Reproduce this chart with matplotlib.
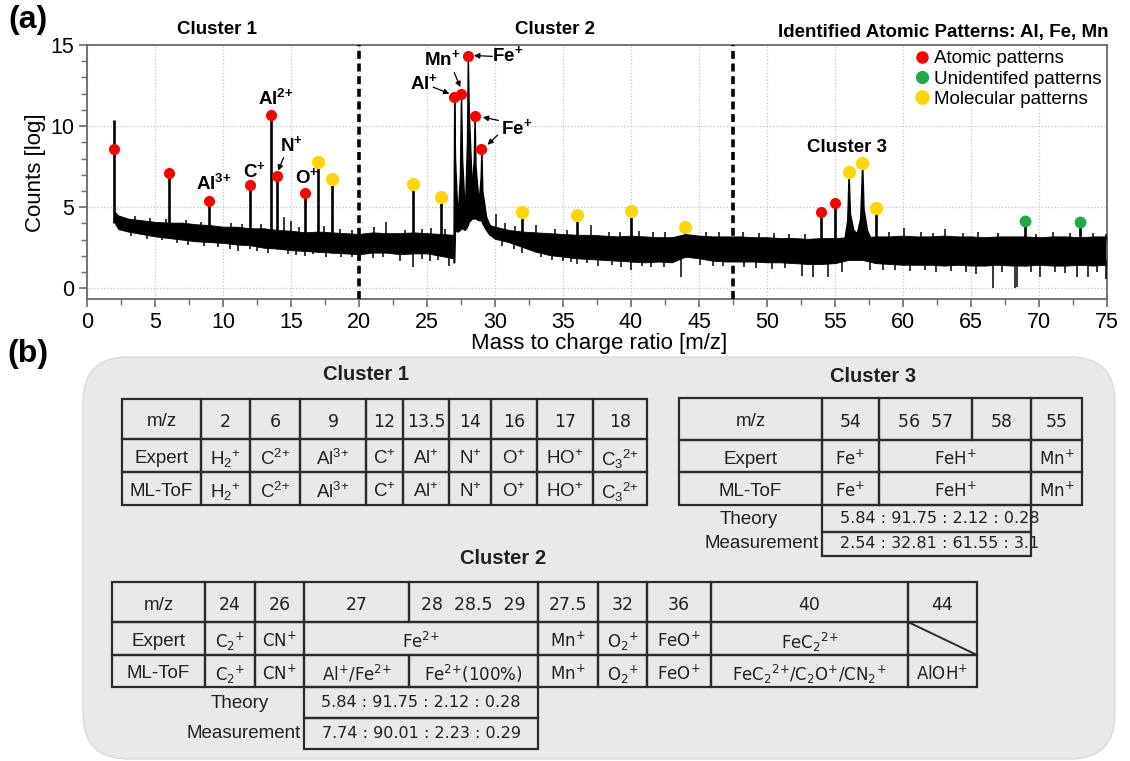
import matplotlib
matplotlib.use("Agg")
import matplotlib.pyplot as plt
import numpy as np
from matplotlib.lines import Line2D
from matplotlib.patches import FancyBboxPatch, Rectangle

plt.rcParams['font.family'] = ['Liberation Sans', 'DejaVu Sans']
plt.rcParams['mathtext.fontset'] = 'custom'
plt.rcParams['mathtext.rm'] = 'Liberation Sans'
plt.rcParams['mathtext.it'] = 'Liberation Sans:italic'
plt.rcParams['mathtext.bf'] = 'Liberation Sans:bold'
plt.rcParams['mathtext.sf'] = 'Liberation Sans'

# ---------------- spectrum data ----------------
# noise band: m/z, upper and lower edge (log counts); gap under the 27-29 cluster
band_mz = [2.05, 2.3, 3, 4, 5, 6, 7, 8, 9, 10, 11, 12, 13, 14, 15, 16, 17, 18, 19, 20,
           21, 22, 23, 24, 25, 26, 26.9,
           29.6, 30, 31, 32, 33, 34, 35, 36, 37, 38, 39, 40, 41, 42, 43, 44, 45, 46, 47,
           48, 49, 50, 51, 52, 53, 54, 55, 56, 57, 58, 59, 60, 61, 62, 63, 64, 65, 66,
           67, 68, 69, 70, 71, 72, 73, 74, 75]
band_hi = [4.7, 4.5, 4.3, 4.2, 4.1, 4.05, 4.05, 3.95, 3.9, 3.8, 3.8, 3.7, 3.7, 3.6, 3.55,
           3.45, 3.5, 3.45, 3.4, 3.35, 3.45, 3.4, 3.4, 3.45, 3.4, 3.35, 3.3,
           3.9, 3.8, 3.6, 3.5, 3.45, 3.4, 3.35, 3.3, 3.3, 3.25, 3.2, 3.25, 3.2, 3.15, 3.15,
           3.35, 3.25, 3.2, 3.2, 3.2, 3.15, 3.15, 3.1, 3.1, 3.05, 3.1, 3.1, 3.15, 3.15,
           3.2, 3.2, 3.25, 3.2, 3.2, 3.25, 3.2, 3.2, 3.15, 3.2, 3.2, 3.2, 3.15, 3.2,
           3.2, 3.15, 3.2, 3.2]
band_lo = [4.0, 3.65, 3.5, 3.35, 3.2, 3.1, 3.0, 2.9, 2.85, 2.8, 2.7, 2.65, 2.5, 2.45, 2.35,
           2.3, 2.25, 2.2, 2.15, 2.1, 2.2, 2.2, 2.1, 2.15, 2.15, 2.0, 1.85,
           3.3, 3.05, 2.85, 2.55, 2.25, 2.05, 1.95, 1.85, 1.8, 1.75, 1.7, 1.65, 1.6, 1.65,
           1.6, 1.95, 1.85, 1.7, 1.65, 1.65, 1.65, 1.6, 1.6, 1.55, 1.5, 1.5, 1.55, 1.75,
           1.75, 1.55, 1.5, 1.45, 1.45, 1.45, 1.4, 1.45, 1.4, 1.4, 1.45, 1.4, 1.4, 1.45,
           1.4, 1.4, 1.45, 1.4, 1.45]

# Al / Mn / Fe cluster (27 - 29.6)
core_mz = [26.95, 27.0, 27.06, 27.25, 27.42, 27.5, 27.58, 27.78, 27.94, 28.0, 28.07, 28.3,
           28.44, 28.5, 28.57, 28.8, 28.94, 29.0, 29.07, 29.35, 29.6]
core_hi = [3.2, 11.8, 8.0, 4.3, 7.0, 11.95, 8.0, 4.6, 9.0, 14.3, 11.0, 6.1,
           8.0, 10.65, 7.5, 5.3, 6.8, 8.6, 6.0, 4.4, 3.9]
core_lo = [1.6, 1.6, 3.6, 3.5, 3.6, 3.7, 3.7, 3.6, 3.8, 3.9, 4.1, 4.3,
           4.3, 4.4, 4.3, 4.2, 4.2, 4.2, 4.0, 3.6, 3.3]

# FeH cluster (56 - 57)
c3_mz = [55.7, 55.9, 56.0, 56.1, 56.35, 56.6, 56.85, 57.0, 57.1, 57.35, 57.6]
c3_hi = [3.1, 4.2, 7.15, 4.6, 3.6, 3.4, 4.3, 7.75, 4.9, 3.6, 3.1]
c3_lo = [2.0, 2.4, 2.8, 2.8, 2.5, 2.2, 2.5, 2.8, 2.8, 2.3, 2.0]

# narrow peaks
peak_mz = [2, 6, 9, 12, 13.5, 14, 16, 17, 18, 24, 26, 32, 36, 40, 44, 54, 55, 58, 69, 73]
peak_top = [10.4, 7.1, 5.4, 6.36, 10.68, 6.95, 5.86, 7.78, 6.73, 6.44, 5.64, 4.69, 4.52,
            4.77, 3.77, 4.69, 5.25, 4.94, 4.14, 4.07]

# small unlabelled spikes of the noise
spike_mz = [3.5, 4.6, 5.8, 7.3, 8.4, 10.6, 11.4, 12.8, 14.5, 15.0, 15.6, 17.4, 18.6, 19.5,
            21.1, 22.0, 23.4, 24.6, 25.3, 26.3, 30.05, 30.7, 31.5, 33.0, 34.4, 35.3, 37.05,
            38.4, 39.2, 40.6, 41.6, 42.5, 45.5, 46.5, 48.2, 49.4, 50.5, 51.6, 52.8, 59.0,
            60.1, 61.3, 62.2, 63.1, 64.4, 65.5, 67.0, 69.8, 71.0, 72.3, 74.0, 74.9]
spike_top = [4.45, 4.35, 4.25, 4.2, 4.1, 4.0, 3.95, 3.95, 4.42, 4.15, 3.8, 3.85, 3.65, 3.6,
             3.75, 4.1, 3.6, 3.65, 3.7, 3.65, 4.6, 4.0, 3.85, 3.9, 3.65, 3.6, 3.9,
             3.5, 3.5, 3.55, 3.45, 3.45, 3.5, 3.45, 3.45, 3.4, 3.4, 3.35, 3.35, 3.5,
             3.7, 3.45, 3.4, 3.65, 3.4, 3.45, 3.4, 3.35, 3.45, 3.4, 3.4, 3.35]
# downward dips of the noise
dip_mz = [3.2, 4.4, 5.5, 6.6, 7.4, 8.6, 9.6, 10.5, 11.1, 12.0, 12.5, 13.3, 14.8, 15.4, 16.0,
          16.6, 17.6, 18.7, 19.5, 20.1, 21.0, 21.8, 23.0, 24.0, 24.6, 25.2, 25.8, 26.6,
          30.5, 31.4, 32.0, 33.4, 34.2, 35.0, 35.6, 36.0, 36.8, 37.6, 38.6, 39.3, 40.0,
          40.8, 41.5, 42.4, 43.7, 45.1, 46.0, 46.8, 48.3, 49.2, 50.4, 51.3, 52.6, 53.4,
          54.5, 55.5, 57.6, 58.5, 59.4, 60.5, 61.6, 62.4, 63.5, 64.6, 65.4, 66.6, 67.3,
          68.2, 68.4, 69.4, 70.1, 71.2, 71.9, 72.8, 73.6, 74.3, 74.9]
dip_bottom = [3.2, 3.05, 2.95, 2.8, 2.7, 2.6, 2.55, 2.45, 2.3, 2.4, 2.3, 2.2, 2.1, 2.05, 2.0,
              2.1, 1.95, 1.95, 1.9, 1.8, 1.85, 1.9, 1.7, 1.3, 1.8, 1.7, 1.75, 1.4,
              2.6, 2.4, 2.2, 1.9, 1.75, 1.7, 1.6, 1.5, 1.55, 1.4, 1.45, 1.3, 1.1,
              1.35, 1.3, 1.3, 0.7, 1.45, 1.4, 1.35, 1.3, 1.25, 1.2, 1.25, 0.75, 0.7,
              0.7, 1.0, 1.1, 1.1, 1.15, 1.05, 1.1, 1.0, 1.05, 1.0, 0.9, 0.0, 1.0,
              0.0, 0.05, 1.0, 0.7, 1.0, 0.95, 0.7, 0.7, 1.0, 0.6]

# identified patterns (dots)
dot_mz = [2, 6, 9, 12, 13.5, 14, 16, 17, 18, 24, 26, 27, 27.5, 28, 28.5, 29, 32, 36, 40,
          44, 54, 55, 56, 57, 58, 69, 73]
dot_y = [8.6, 7.1, 5.4, 6.36, 10.68, 6.95, 5.86, 7.78, 6.73, 6.44, 5.64, 11.81, 11.95,
         14.3, 10.64, 8.6, 4.69, 4.52, 4.77, 3.77, 4.69, 5.25, 7.14, 7.75, 4.94, 4.14, 4.07]
dot_kind = ['A', 'A', 'A', 'A', 'A', 'A', 'A', 'M', 'M', 'M', 'M', 'A', 'A', 'A', 'A', 'A',
            'M', 'M', 'M', 'M', 'A', 'A', 'M', 'M', 'M', 'U', 'U']
kind_color = {'A': '#ff0000', 'U': '#21a945', 'M': '#ffd700'}
kind_size = {'A': 8, 'U': 8.5, 'M': 9.5}
kind_label = {'A': 'Atomic patterns', 'U': 'Unidentifed patterns', 'M': 'Molecular patterns'}

# ---------------- table data ----------------
c1_cols = [122, 201, 250, 300, 366, 403, 449, 491, 537, 593, 647]
c1_rows = [399, 439, 472, 505]
c1_cells = [
    [('m/z', 0, 1), ('2', 1, 2), ('6', 2, 3), ('9', 3, 4), ('12', 4, 5), ('13.5', 5, 6),
     ('14', 6, 7), ('16', 7, 8), ('17', 8, 9), ('18', 9, 10)],
    [('Expert', 0, 1), ('H$_2{}^{{+}}$', 1, 2), ('C$^{2{+}}$', 2, 3), ('Al$^{3{+}}$', 3, 4),
     ('C$^{{+}}$', 4, 5), ('Al$^{{+}}$', 5, 6), ('N$^{{+}}$', 6, 7), ('O$^{{+}}$', 7, 8),
     ('HO$^{{+}}$', 8, 9), ('C$_3{}^{2{+}}$', 9, 10)],
    [('ML-ToF', 0, 1), ('H$_2{}^{{+}}$', 1, 2), ('C$^{2{+}}$', 2, 3), ('Al$^{3{+}}$', 3, 4),
     ('C$^{{+}}$', 4, 5), ('Al$^{{+}}$', 5, 6), ('N$^{{+}}$', 6, 7), ('O$^{{+}}$', 7, 8),
     ('HO$^{{+}}$', 8, 9), ('C$_3{}^{2{+}}$', 9, 10)],
]

c2_cols = [112, 205, 255, 304, 409, 538, 598, 647, 711, 908, 977]
c2_rows = [582, 622, 655, 687]
c2_cells = [
    [('m/z', 0, 1), ('24', 1, 2), ('26', 2, 3), ('27', 3, 4), ('28  28.5  29', 4, 5),
     ('27.5', 5, 6), ('32', 6, 7), ('36', 7, 8), ('40', 8, 9), ('44', 9, 10)],
    [('Expert', 0, 1), ('C$_2{}^{{+}}$', 1, 2), ('CN$^{{+}}$', 2, 3), ('Fe$^{2{+}}$', 3, 5),
     ('Mn$^{{+}}$', 5, 6), ('O$_2{}^{{+}}$', 6, 7), ('FeO$^{{+}}$', 7, 8),
     ('FeC$_2{}^{2{+}}$', 8, 9), ('', 9, 10)],
    [('ML-ToF', 0, 1), ('C$_2{}^{{+}}$', 1, 2), ('CN$^{{+}}$', 2, 3),
     ('Al$^{{+}}$/Fe$^{2{+}}$', 3, 4), ('Fe$^{2{+}}$(100%)', 4, 5), ('Mn$^{{+}}$', 5, 6),
     ('O$_2{}^{{+}}$', 6, 7), ('FeO$^{{+}}$', 7, 8),
     ('FeC$_2{}^{2{+}}$/C$_2$O$^{{+}}$/CN$_2{}^{{+}}$', 8, 9), ('AlOH$^{{+}}$', 9, 10)],
]
c2_theory = '5.84 : 91.75 : 2.12 : 0.28'
c2_measure = '7.74 : 90.01 : 2.23 : 0.29'

c3_cols = [679, 822, 879, 972, 1031, 1082]
c3_rows = [398, 440, 472, 505]
c3_cells = [
    [('m/z', 0, 1), ('54', 1, 2), ('56  57', 2, 3), ('58', 3, 4), ('55', 4, 5)],
    [('Expert', 0, 1), ('Fe$^{{+}}$', 1, 2), ('FeH$^{{+}}$', 2, 4), ('Mn$^{{+}}$', 4, 5)],
    [('ML-ToF', 0, 1), ('Fe$^{{+}}$', 1, 2), ('FeH$^{{+}}$', 2, 4), ('Mn$^{{+}}$', 4, 5)],
]
c3_theory = '5.84 : 91.75 : 2.12 : 0.28'
c3_measure = '2.54 : 32.81 : 61.55 : 3.1'

W, H = 1130, 761
fig = plt.figure(figsize=(W / 100, H / 100), dpi=100)

# ---------------- panel (b): tables on a pixel-coordinate overlay ----------------
tb = fig.add_axes([0, 0, 1, 1])
tb.set_xlim(0, W)
tb.set_ylim(H, 0)
tb.axis('off')

tb.add_patch(FancyBboxPatch((83, 357), 1032, 402, boxstyle='round,pad=0,rounding_size=45',
                            fc='#e9e9e9', ec='#dadada', lw=1))
ink = '#231f20'
lc = '#2b2b2b'


def draw_table(cols, rows, cells, formula_font, formula_size):
    for r, row in enumerate(cells):
        y0, y1 = rows[r], rows[r + 1]
        for text, a, b in row:
            x0, x1 = cols[a], cols[b]
            tb.add_patch(Rectangle((x0, y0), x1 - x0, y1 - y0, fill=False, ec=lc, lw=1.6))
            if a == 0:
                fam, size = 'Liberation Sans', 13.5
            elif any(ch.isalpha() for ch in text):
                fam, size = formula_font, formula_size
            else:
                fam, size = 'DejaVu Sans', 12.5
            mf = 'dejavusans' if fam == 'DejaVu Sans' else 'custom'
            tb.text((x0 + x1) / 2, (y0 + y1) / 2 + 1, text, ha='center', va='center_baseline',
                    fontsize=size, family=fam, color=ink, math_fontfamily=mf)


draw_table(c1_cols, c1_rows, c1_cells, 'Liberation Sans', 13.5)
draw_table(c2_cols, c2_rows, c2_cells, 'DejaVu Sans', 12)
draw_table(c3_cols, c3_rows, c3_cells, 'DejaVu Sans', 12)
tb.plot([c2_cols[9], c2_cols[10]], [c2_rows[1], c2_rows[2]], color=lc, lw=1.4)

tb.text(366, 375, 'Cluster 1', ha='center', va='center', fontsize=14.5, fontweight='bold', color=ink)
tb.text(503, 559, 'Cluster 2', ha='center', va='center', fontsize=14.5, fontweight='bold', color=ink)
tb.text(873, 377, 'Cluster 3', ha='center', va='center', fontsize=14.5, fontweight='bold', color=ink)

# theory / measurement boxes
for (x0, x1, ya, yb, yc, t1, t2, lab_x, centred) in [
        (304, 538, 687, 718, 749, c2_theory, c2_measure, 240, True),
        (822, 1031, 505, 532, 556, c3_theory, c3_measure, 749, False)]:
    tb.text(lab_x, (ya + yb) / 2 + 1, 'Theory', ha='center', va='center', fontsize=13.5, color=ink)
    tb.text(x0 - 3, (yb + yc) / 2, 'Measurement', ha='right', va='center', fontsize=13.5, color=ink)
    for (y0, y1, t) in [(ya, yb, t1), (yb, yc, t2)]:
        if centred:
            tb.text((x0 + x1) / 2, (y0 + y1) / 2, t, ha='center', va='center',
                    fontsize=11.5, family='DejaVu Sans', color=ink)
        else:
            tb.text(x0 + 18, (y0 + y1) / 2, t, ha='left', va='center',
                    fontsize=11.5, family='DejaVu Sans', color=ink)
        tb.add_patch(Rectangle((x0, y0), x1 - x0, y1 - y0, fill=False, ec=lc, lw=1.6, zorder=5))

# ---------------- panel (a): spectrum ----------------
ax = fig.add_axes([87 / W, 1 - 299 / H, (1107 - 87) / W, (299 - 45) / H])

bmz = np.array(band_mz)
left = bmz <= 27
ax.fill_between(bmz[left], np.array(band_lo)[left], np.array(band_hi)[left],
                color='k', lw=0.6, zorder=2)
ax.fill_between(bmz[~left], np.array(band_lo)[~left], np.array(band_hi)[~left],
                color='k', lw=0.6, zorder=2)
ax.fill_between(core_mz, core_lo, core_hi, color='k', lw=1.0, zorder=2)
ax.fill_between(c3_mz, c3_lo, c3_hi, color='k', lw=1.0, zorder=2)

foot = np.interp(peak_mz, band_mz, band_lo)
ax.vlines(peak_mz, foot, peak_top, color='k', lw=1.9, zorder=3)
ax.vlines(spike_mz, np.interp(spike_mz, band_mz, band_hi) - 0.3, spike_top,
          color='k', lw=1.1, zorder=3)
ax.vlines(dip_mz, dip_bottom, np.interp(dip_mz, band_mz, band_lo) + 0.3,
          color='k', lw=1.1, zorder=3)

for k in ['A', 'U', 'M']:
    xs = [x for x, kk in zip(dot_mz, dot_kind) if kk == k]
    ys = [y for y, kk in zip(dot_y, dot_kind) if kk == k]
    ax.plot(xs, ys, 'o', color=kind_color[k], ms=kind_size[k], mec='none', zorder=5)

for xv in [20, 47.5]:
    ax.axvline(xv, color='k', lw=2.6, ls=(0, (2.2, 1.3)), zorder=4)

ax.set_xlim(0, 75)
ax.set_ylim(-0.66, 15)
ax.set_xticks(np.arange(0, 76, 5))
ax.set_yticks([0, 5, 10, 15])
ax.set_xticks(np.arange(0, 75.1, 2.5), minor=True)
ax.set_yticks(np.arange(0, 15.1, 1), minor=True)
ax.grid(True, which='major', color='#c4c4c4', ls=':', lw=0.9)
ax.set_axisbelow(True)
for s in ax.spines.values():
    s.set_color('#6a6a6a')
    s.set_linewidth(1.3)
ax.tick_params(which='major', length=6, width=1.2, color='#6a6a6a', labelsize=15.5, pad=3)
ax.tick_params(which='minor', length=4, width=1.0, color='#6a6a6a')

fig.text(599 / W, 1 - 343 / H, 'Mass to charge ratio [m/z]', ha='center', va='center', fontsize=16)
fig.text(36 / W, 1 - 173 / H, 'Counts [log]', ha='center', va='center', fontsize=16, rotation=90)

# labels of peaks
lab = dict(fontsize=13.5, fontweight='bold', ha='center', va='center', zorder=6)
ax.text(9.35, 6.45, r'Al$^{\mathbf{3{+}}}$', **lab)
ax.text(12.3, 7.25, r'C$^{\mathbf{{+}}}$', **lab)
ax.text(13.9, 11.7, r'Al$^{\mathbf{2{+}}}$', **lab)
ax.text(15.05, 8.85, r'N$^{\mathbf{{+}}}$', **lab)
ax.text(16.2, 6.85, r'O$^{\mathbf{{+}}}$', **lab)
ax.text(24.75, 12.65, r'Al$^{\mathbf{{+}}}$', **lab)
ax.text(26.1, 14.15, r'Mn$^{\mathbf{{+}}}$', **lab)
ax.text(30.95, 14.4, r'Fe$^{\mathbf{{+}}}$', **lab)
ax.text(31.6, 9.9, r'Fe$^{\mathbf{{+}}}$', **lab)
ax.text(55.9, 8.7, 'Cluster 3', **lab)

arrow = dict(arrowstyle='-|>', color='k', lw=0.9, mutation_scale=8, shrinkA=0, shrinkB=0)
for start, end in [((14.45, 8.05), (14.05, 7.25)),
                   ((25.45, 12.4), (26.65, 12.0)),
                   ((27.0, 13.3), (27.45, 12.4)),
                   ((29.8, 14.3), (28.45, 14.35)),
                   ((30.25, 10.35), (29.1, 10.55)),
                   ((30.2, 9.45), (29.45, 8.85))]:
    ax.annotate('', xy=end, xytext=start, arrowprops=arrow, zorder=6)

handles = [Line2D([], [], marker='o', ls='', color=kind_color[k], ms=kind_size[k] + 1,
                  mec='none', label=kind_label[k]) for k in ['A', 'U', 'M']]
ax.legend(handles=handles, loc='upper right', bbox_to_anchor=(1.0, 1.0), frameon=False,
          fontsize=13.5, handletextpad=0.2, labelspacing=0.17, borderaxespad=0.12,
          handlelength=0.9, borderpad=0.15)

fig.text(217 / W, 1 - 29 / H, 'Cluster 1', ha='center', va='center', fontsize=13.5, fontweight='bold')
fig.text(555 / W, 1 - 29 / H, 'Cluster 2', ha='center', va='center', fontsize=13.5, fontweight='bold')
fig.text(1109 / W, 1 - 33 / H, 'Identified Atomic Patterns: Al, Fe, Mn', ha='right', va='center',
         fontsize=13.5, fontweight='bold')
fig.text(8 / W, 1 - 20 / H, '(a)', ha='left', va='center', fontsize=23, fontweight='bold')
fig.text(7 / W, 1 - 354 / H, '(b)', ha='left', va='center', fontsize=23, fontweight='bold')

fig.savefig('out.png', dpi=100)
